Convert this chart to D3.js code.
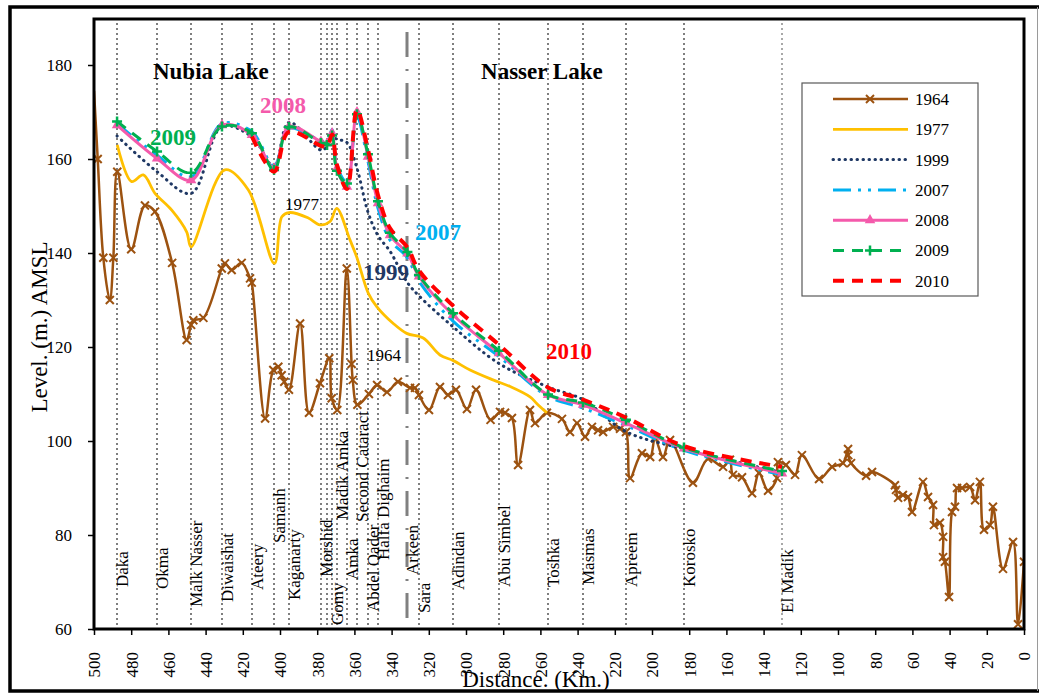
<!DOCTYPE html>
<html lang="en">
<head>
<meta charset="UTF-8">
<title>Nubia / Nasser Lake bed levels</title>
<style>
  body { margin: 0; background: #fff; }
  svg { display: block; font-family: "Liberation Serif", "Times New Roman", serif; }
</style>
</head>
<body>
<script src="https://cdn.jsdelivr.net/npm/d3@7/dist/d3.min.js"></script>
<script>
// ---- data ----
const stationNames = ["Daka", "Okma", "Malk Nasser", "Diwaishat", "Ateery", "Samanh", "Kaganarty",
  "Morshid", "", "Gomy", "Madik Amka", "Amka", "Second Cataract", "Abdel Qader", "Halfa Dighaim",
  "Arkeen", "Sara", "Adindan", "Abu Simbel", "Toshka", "Masmas", "Apreem", "Korosko", "El Madik"];
const stationKm = [487.6, 466.1, 447.8, 431.2, 415.1, 403.2, 395.2, 378, 374.7, 372, 369.4, 364,
  358.6, 352.7, 347.3, 331.5, 325.3, 307, 282.3, 255.9, 237.1, 214, 182.8, 130.1];
const boundaryKm = 331.5;

const xTicks = [500, 480, 460, 440, 420, 400, 380, 360, 340, 320, 300, 280, 260, 240, 220, 200,
  180, 160, 140, 120, 100, 80, 60, 40, 20, 0];
const yTicks = [60, 80, 100, 120, 140, 160, 180];

const years = ["1964", "1977", "1999", "2007", "2008", "2009", "2010"];

const lvl1964 = [[500,174.5],[498,160],[495,139],[491.5,130],[489.6,139],[487.5,157.3],[480,140.8],
  [472.6,150.1],[467.2,148.8],[458,137.9],[450.2,121.5],[447.8,124.7],[446.6,125.7],[441.2,126.2],
  [431.3,136.7],[429.6,137.8],[426,136.4],[420.6,137.9],[416.1,134.6],[415.2,133.7],[408,104.8],
  [403.6,115.1],[400.9,115.8],[399.1,114],[397.7,112.6],[395.2,110.9],[389.2,125],[384.4,106],
  [378.5,112.3],[373.5,117.6],[372.2,109.1],[369.2,106.6],[364.1,136.7],[361.5,116.4],[360.9,113],
  [358.4,107.7],[352.2,110],[347.8,111.9],[342.5,110.4],[336.6,112.6],[330.1,111.3],[327.4,111.3],
  [325.3,109.8],[319.9,106.6],[314,111.5],[309.7,109.8],[305.4,110.9],[299.5,106.8],[294.6,110.9],
  [286.8,104.5],[281.7,106.2],[279,106],[275.3,104.9],[272,94.9],[265.6,106.6],[262.9,103.8],
  [256.5,106],[248.4,104.7],[244.1,101.9],[240.3,103.8],[236,100.9],[232.3,103],[229,102.3],
  [226.3,101.9],[220.9,103],[217.2,102.6],[214,101.9],[211.8,92.1],[205.4,97.4],[201,96.6],
  [198.4,100.6],[194.1,96.6],[190.3,100.2],[178,91.1],[169.9,96.2],[161.8,94.5],[158.1,96],
  [156.5,92.8],[151.6,92.3],[146.2,88.9],[142.5,93.2],[137.6,89.4],[132.8,92.1],[132.3,95.5],
  [128,94.9],[123.1,92.8],[119.4,97],[110.2,91.9],[103.2,94.5],[97.3,95.3],[94.6,98.3],[94.5,97],
  [93,95.3],[84.9,92.6],[81.7,93.4],[69.4,90.6],[68.8,89.6],[67.7,87.9],[65.1,88.5],[62.4,88.1],
  [60.2,84.9],[54.3,91.3],[51.6,88.1],[48.9,86.4],[48.4,82.1],[45.2,82.6],[43.5,79.6],[43.5,75.3],
  [42.5,74.3],[40.3,66.8],[38.7,84.9],[37.1,86],[36,90],[33.3,90],[29,90.2],[26.3,87.4],[23.7,91.3],
  [21.5,81.1],[18.3,82.1],[16.7,86],[11.3,72.8],[5.9,78.5],[3.2,61],[0,74.3]];

const lvl1977 = [[487.5,163],[479.8,155.2],[473.5,156.6],[467.2,152.7],[458.2,149.1],[450.2,144.5],
  [447.8,141.3],[429.6,157.7],[417,153.4],[403,137.8],[399,147.7],[395.2,148.6],[385,147.5],
  [378.5,146],[373.1,146.7],[369.5,149.5],[362.4,142.8],[358.8,139.2],[352.5,131.4],[348,128.6],
  [339.1,125],[331.9,122.9],[323,121.9],[314,118.3],[306.8,117.1],[297.8,115.1],[285.5,113],
  [276.3,111.6],[265.6,109.4],[262,108],[256.5,106]];

const lvl1999 = [[487.6,164.9],[466.1,157.3],[447.8,152.7],[431.2,166.9],[415.1,164.7],[403.2,158.4],
  [395.2,167.8],[378,161.9],[374.7,162.6],[372,164.7],[369.4,164.2],[364,163.5],[358.6,158],
  [352.7,148.7],[347.3,143.7],[340.9,140.4],[331.5,133.7],[325.3,130.9],[307,124.3],[282.3,116.5],
  [255.9,111.5],[237.1,108.8],[214,102],[182.8,98.3],[130.1,93.3]];

const lvl2007 = [[487.6,167.5],[466.1,160.8],[447.8,156.2],[431.2,167.5],[415.1,165.8],[403.2,158.5],
  [395.2,166.5],[378,163.9],[374.7,163.8],[372,166.3],[369.4,158.5],[364,155],[358.6,169],
  [352.7,159.5],[347.3,149.5],[340.9,142.8],[331.5,139],[325.3,134],[307,125.5],[282.3,118],
  [255.9,109.5],[237.1,107],[214,103.3],[182.8,98],[130.1,92.8]];

const lvl2008 = [[487.6,167.2],[466.1,160.1],[447.8,155.5],[431.2,167.2],[415.1,165.1],[403.2,158],
  [395.2,166.9],[378,163.7],[374.7,163.3],[372,165.5],[369.4,158],[364,154.1],[358.6,170],
  [352.7,160.5],[347.3,150.6],[340.9,143.8],[331.5,139.9],[325.3,135],[307,126.8],[282.3,118.7],
  [255.9,109.8],[237.1,107.7],[214,103.8],[182.8,98.4],[130.1,93.1]];

const lvl2009 = [[487.6,168],[466.1,161.6],[447.8,157.1],[431.2,166.9],[415.1,165.5],[403.2,157.7],
  [395.2,166.8],[378,163.4],[374.7,163],[372,165],[369.4,157.5],[364,154.8],[358.6,169.5],
  [352.7,161],[347.3,151],[340.9,144.3],[331.5,140.2],[325.3,135.3],[307,127.2],[282.3,119.2],
  [255.9,109.9],[237.1,108.2],[214,104.5],[182.8,98.6],[130.1,93.6]];

const lvl2010 = [[415.1,164.8],[403.2,157.3],[395.2,165.8],[378,162.8],[374.7,162.6],[372,165.2],
  [369.4,158.8],[364,153.6],[358.6,170.5],[352.7,162],[347.3,152.3],[340.9,145.3],[331.5,141.2],
  [325.3,136.3],[307,128.8],[282.3,120.5],[255.9,111.4],[237.1,108.8],[214,105],[182.8,98.9],
  [130.1,94.5]];

// chart annotations (text, km, level)
const notes = [
  ["Nubia Lake", 468.3, 177, "#000", 23, "bold"],
  ["Nasser Lake", 291.9, 177, "#000", 23, "bold"],
  ["2008", 410.8, 169.8, "#f45aab", 23, "bold"],
  ["2009", 469.9, 163, "#00b050", 23, "bold"],
  ["2007", 327.4, 142.8, "#00b0f0", 23, "bold"],
  ["1999", 355.4, 134.3, "#1f3864", 23, "bold"],
  ["2010", 257, 117.4, "#ff0000", 23, "bold"],
  ["1977", 397.3, 149.1, "#000", 17, "normal"],
  ["1964", 353.2, 117, "#000", 17, "normal"]
];

// ---- layout ----
const w = 1039, h = 695;
const plotL = 94, plotR = 1024, plotT = 18, plotB = 629;
// where each station name starts (pixel y of the text foot)
const labelFoot = [587, 589, 607, 602, 590, 543, 600, 577, 0, 625, 520, 580, 522, 612, 560, 575,
  613, 590, 587, 587, 585, 587, 587, 613];

const styles = {
  "1964": { color: "#9c5210", width: 2.5, dash: null, marker: "x" },
  "1977": { color: "#ffc000", width: 2.8, dash: null, marker: null },
  "1999": { color: "#1f3864", width: 3, dash: "0.5,5.5", marker: null, cap: "round" },
  "2007": { color: "#00b0f0", width: 3, dash: "18,7,3,7,3,7", marker: null },
  "2008": { color: "#f45aab", width: 3, dash: null, marker: "tri" },
  "2009": { color: "#00b050", width: 3, dash: "11,8", marker: "plus" },
  "2010": { color: "#ff0000", width: 4, dash: "11,8", marker: null }
};
const seriesData = { "1964": lvl1964, "1977": lvl1977, "1999": lvl1999, "2007": lvl2007,
  "2008": lvl2008, "2009": lvl2009, "2010": lvl2010 };

const x = d3.scaleLinear().domain([500, 0]).range([plotL, plotR]);
const y = d3.scaleLinear().domain([60, 190]).range([plotB, plotT]);

const svg = d3.select("body").append("svg").attr("width", w).attr("height", h);
svg.append("rect").attr("width", w).attr("height", h).attr("fill", "#fff");

svg.append("clipPath").attr("id", "plot")
  .append("rect").attr("x", plotL).attr("y", plotT).attr("width", plotR - plotL).attr("height", plotB - plotT);

// station lines
svg.append("g").selectAll("line")
  .data(stationKm.filter(k => k !== boundaryKm))
  .enter().append("line")
  .attr("x1", d => Math.round(x(d))).attr("x2", d => Math.round(x(d)))
  .attr("y1", plotT).attr("y2", plotB)
  .attr("stroke", d => d < 140 ? "#a8a8a8" : "#7f7f7f")
  .attr("stroke-width", 2)
  .attr("stroke-dasharray", "2,3");

svg.append("line")
  .attr("x1", Math.round(x(boundaryKm))).attr("x2", Math.round(x(boundaryKm)))
  .attr("y1", plotT).attr("y2", plotB)
  .attr("stroke", "#808080").attr("stroke-width", 3)
  .attr("stroke-dasharray", "2,12,25,12");

// station names
svg.append("g").selectAll("text")
  .data(stationNames.map((n, i) => [n, stationKm[i], labelFoot[i]]).filter(d => d[0]))
  .enter().append("text")
  .attr("transform", d => "translate(" + (x(d[1]) + 11) + "," + d[2] + ") rotate(-90)")
  .attr("font-size", 17)
  .attr("fill", "#000")
  .text(d => d[0]);

// series
const line = d3.line().x(d => x(d[0])).y(d => y(d[1])).curve(d3.curveCatmullRom.alpha(0.5));
const plot = svg.append("g").attr("clip-path", "url(#plot)");

function drawMarker(g, type, color) {
  if (type === "x") {
    g.append("path").attr("d", "M-4,-4L4,4M-4,4L4,-4").attr("stroke", color).attr("stroke-width", 2).attr("fill", "none");
  } else if (type === "tri") {
    g.append("path").attr("d", d3.symbol(d3.symbolTriangle, 48)()).attr("fill", color);
  } else if (type === "plus") {
    g.append("path").attr("d", "M-5,0H5M0,-5V5").attr("stroke", color).attr("stroke-width", 2.5).attr("fill", "none");
  }
}

years.forEach(yr => {
  const s = styles[yr];
  plot.append("path")
    .datum(seriesData[yr])
    .attr("d", line)
    .attr("fill", "none")
    .attr("stroke", s.color)
    .attr("stroke-width", s.width)
    .attr("stroke-linecap", s.cap || "butt")
    .attr("stroke-linejoin", "round")
    .attr("stroke-dasharray", s.dash);
  if (s.marker) {
    // the 1964 profile enters from beyond the left edge, so its first point has no visible marker
    const pts = yr === "1964" ? seriesData[yr].slice(1) : seriesData[yr];
    plot.append("g").selectAll("g")
      .data(pts)
      .enter().append("g")
      .attr("transform", d => "translate(" + x(d[0]) + "," + y(d[1]) + ")")
      .each(function () { drawMarker(d3.select(this), s.marker, s.color); });
  }
});

// annotations
svg.append("g").selectAll("text")
  .data(notes)
  .enter().append("text")
  .attr("x", d => x(d[1])).attr("y", d => y(d[2]))
  .attr("fill", d => d[3])
  .attr("font-size", d => d[4])
  .attr("font-weight", d => d[5])
  .text(d => d[0]);

// axes
const xAxis = d3.axisBottom(x).tickValues(xTicks).tickSize(6).tickSizeOuter(0);
const gx = svg.append("g").attr("transform", "translate(0," + plotB + ")").call(xAxis);
gx.select(".domain").remove();
gx.selectAll("line").attr("stroke", "#000").attr("stroke-width", 1.5);
gx.selectAll("text")
  .attr("transform", "rotate(-90)")
  .attr("x", -23).attr("y", 0).attr("dy", "0.35em")
  .style("text-anchor", "end")
  .attr("font-size", 17)
  .attr("font-family", "Liberation Serif")
  .attr("fill", "#000");

const yAxis = d3.axisLeft(y).tickValues(yTicks).tickSize(6).tickSizeOuter(0).tickPadding(16);
const gy = svg.append("g").attr("transform", "translate(" + plotL + ",0)").call(yAxis);
gy.select(".domain").remove();
gy.selectAll("line").attr("stroke", "#000").attr("stroke-width", 1.5);
gy.selectAll("text").attr("font-size", 17).attr("font-family", "Liberation Serif").attr("fill", "#000");

// plot border and outer frame
svg.append("rect")
  .attr("x", plotL).attr("y", plotT + 1).attr("width", plotR - plotL).attr("height", plotB - plotT - 1)
  .attr("fill", "none").attr("stroke", "#000").attr("stroke-width", 3);
svg.append("path")
  .attr("d", "M1039,7H10V691H1039")
  .attr("fill", "none").attr("stroke", "#000").attr("stroke-width", 3.5);
svg.append("line")
  .attr("x1", 1037.5).attr("x2", 1037.5).attr("y1", 7).attr("y2", 691)
  .attr("stroke", "#9a9a9a").attr("stroke-width", 1);

// axis titles
svg.append("text")
  .attr("transform", "translate(47,327) rotate(-90)")
  .attr("text-anchor", "middle")
  .attr("font-size", 23)
  .text("Level. (m.) AMSL");
svg.append("text")
  .attr("x", 536).attr("y", 687)
  .attr("text-anchor", "middle")
  .attr("font-size", 23)
  .text("Distance. (Km.)");

// legend
const lg = svg.append("g").attr("transform", "translate(802,83)");
lg.append("rect").attr("width", 176).attr("height", 213)
  .attr("fill", "#fff").attr("stroke", "#595959").attr("stroke-width", 1.2);
years.forEach((yr, i) => {
  const s = styles[yr];
  const g = lg.append("g").attr("transform", "translate(0," + (16 + i * 30.3) + ")");
  g.append("line").attr("x1", 31).attr("x2", 106).attr("y1", 0).attr("y2", 0)
    .attr("stroke", s.color).attr("stroke-width", s.width)
    .attr("stroke-linecap", s.cap || "butt")
    .attr("stroke-dasharray", s.dash);
  if (s.marker) drawMarker(g.append("g").attr("transform", "translate(68,0)"), s.marker, s.color);
  g.append("text").attr("x", 113).attr("y", 0).attr("dy", "0.35em")
    .attr("font-size", 17).text(yr);
});
</script>
</body>
</html>
